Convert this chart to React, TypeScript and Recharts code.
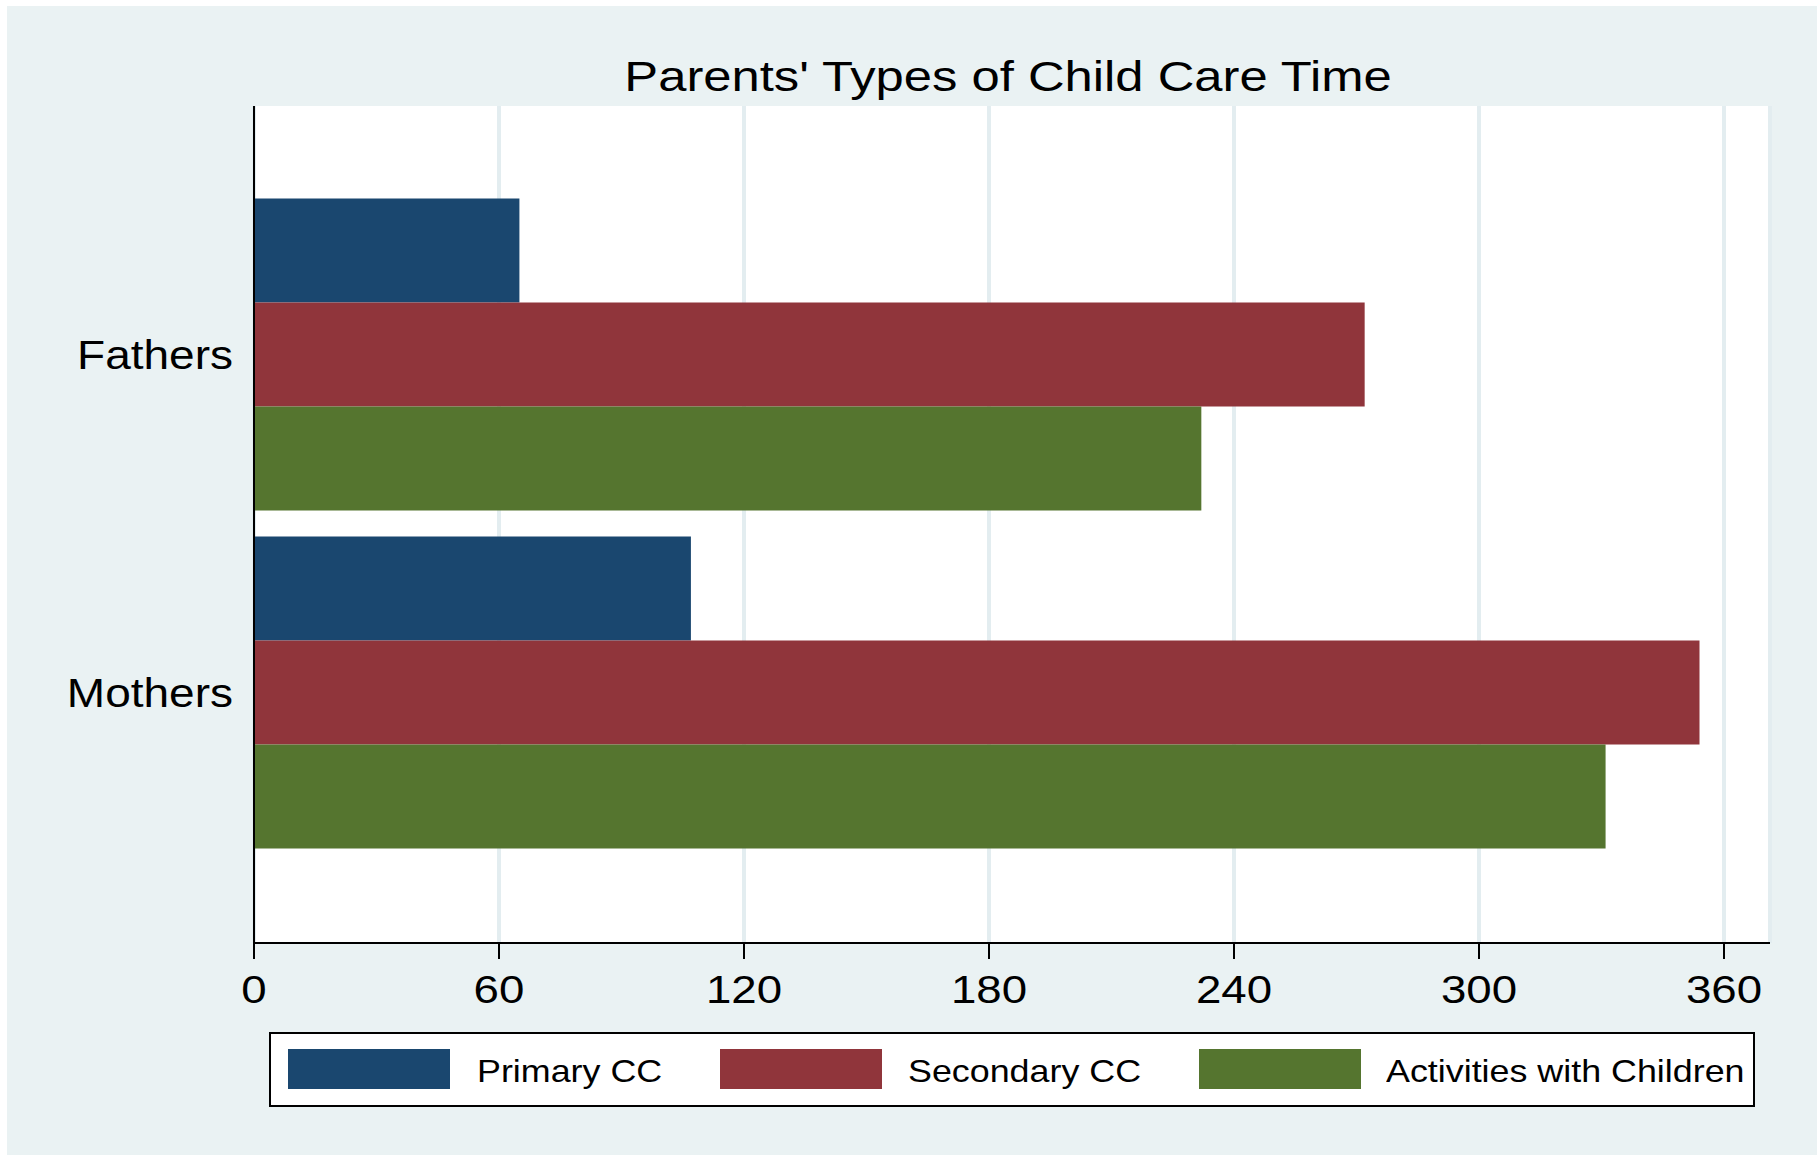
import { Bar, BarChart, CartesianGrid, Legend, XAxis, YAxis } from "recharts";

const categories = ["Fathers", "Mothers"];
const primaryCC = [65, 107];
const secondaryCC = [272, 354];
const activitiesWithChildren = [232, 331];
const xTicks = [0, 60, 120, 180, 240, 300, 360];

const seriesDefs = [
  { key: "primary", name: "Primary CC", color: "#1a476f", values: primaryCC },
  { key: "secondary", name: "Secondary CC", color: "#90353b", values: secondaryCC },
  { key: "activities", name: "Activities with Children", color: "#55752f", values: activitiesWithChildren },
];

const data = categories.map((name, i) => {
  const row: Record<string, string | number> = { name };
  seriesDefs.forEach((s) => {
    row[s.key] = s.values[i];
  });
  return row;
});

const FONT = '"Liberation Sans", Arial, Helvetica, sans-serif';
const BG = "#eaf2f3";

// legend item offsets (inside the legend box)
const swatchLeft = [17, 449, 928];
const labelLeft = [206, 637, 1115];

// the original text is a little wider than Liberation Sans, so stretch it
function XTick(props: any) {
  const { x, y, payload } = props;
  return (
    <g transform={`translate(${x},${y})`}>
      <text
        transform="scale(1.17,1)"
        textAnchor="middle"
        dy="0.71em"
        fontSize={39}
        fill="#000"
        fontFamily={FONT}
      >
        {payload.value}
      </text>
    </g>
  );
}

function YTick(props: any) {
  const { x, y, payload } = props;
  return (
    <g transform={`translate(${x},${y})`}>
      <text
        transform="scale(1.15,1)"
        textAnchor="end"
        dy="0.355em"
        fontSize={40}
        fill="#000"
        fontFamily={FONT}
      >
        {payload.value}
      </text>
    </g>
  );
}

function LegendBox() {
  return (
    <div
      style={{
        position: "relative",
        width: 1486,
        height: 75,
        boxSizing: "border-box",
        border: "2px solid #000",
        background: "#fff",
        fontFamily: FONT,
      }}
    >
      {seriesDefs.map((s, i) => (
        <div key={s.key}>
          <div
            style={{
              position: "absolute",
              left: swatchLeft[i],
              top: 15,
              width: 162,
              height: 40,
              background: s.color,
            }}
          />
          <div
            style={{
              position: "absolute",
              left: labelLeft[i],
              top: 21,
              fontSize: 32,
              lineHeight: "32px",
              color: "#000",
              whiteSpace: "nowrap",
              transform: "scaleX(1.12)",
              transformOrigin: "left center",
            }}
          >
            {s.name}
          </div>
        </div>
      ))}
    </div>
  );
}

export default function App() {
  return (
    <div style={{ position: "absolute", left: 0, top: 0, width: 1820, height: 1155, background: "#fff" }}>
      <div style={{ position: "absolute", left: 7, top: 6, width: 1810, height: 1149, background: BG }} />
      <div
        style={{
          position: "absolute",
          left: 254,
          width: 1516,
          top: 91.7 - 0.8465 * 43,
          textAlign: "center",
          fontFamily: FONT,
          fontSize: 43,
          lineHeight: "43px",
          color: "#000",
          whiteSpace: "nowrap",
          paddingRight: 8,
          boxSizing: "border-box",
          transform: "scaleX(1.18)",
          transformOrigin: "754px center",
        }}
      >
        Parents' Types of Child Care Time
      </div>
      <div style={{ position: "absolute", left: 0, top: 0 }}>
        <BarChart
          width={1820}
          height={1155}
          data={data}
          layout="vertical"
          margin={{ top: 106, right: 50, bottom: 0, left: 0 }}
          barCategoryGap={12.5}
          barGap={0}
        >
          <CartesianGrid horizontal={false} stroke="#e3edf0" strokeWidth={4} fill="#ffffff" fillOpacity={1} />
          <XAxis
            type="number"
            domain={[0, 360]}
            ticks={xTicks}
            padding={{ left: 0, right: 46 }}
            height={212}
            axisLine={{ stroke: "#000", strokeWidth: 2 }}
            tickLine={{ stroke: "#000", strokeWidth: 2 }}
            tickSize={16}
            tickMargin={16}
            tick={<XTick />}
            interval={0}
          />
          <YAxis
            type="category"
            dataKey="name"
            width={254}
            padding={{ top: 80, bottom: 81 }}
            axisLine={{ stroke: "#000", strokeWidth: 2 }}
            tickLine={false}
            tickSize={0}
            tickMargin={21}
            tick={<YTick />}
          />
          <Legend
            layout="horizontal"
            verticalAlign="middle"
            align="center"
            width={1486}
            wrapperStyle={{ left: 269, top: 1032, width: 1486, height: 75 }}
            content={() => <LegendBox />}
          />
          {seriesDefs.map((s) => (
            <Bar key={s.key} dataKey={s.key} name={s.name} fill={s.color} isAnimationActive={false} />
          ))}
        </BarChart>
      </div>
    </div>
  );
}
